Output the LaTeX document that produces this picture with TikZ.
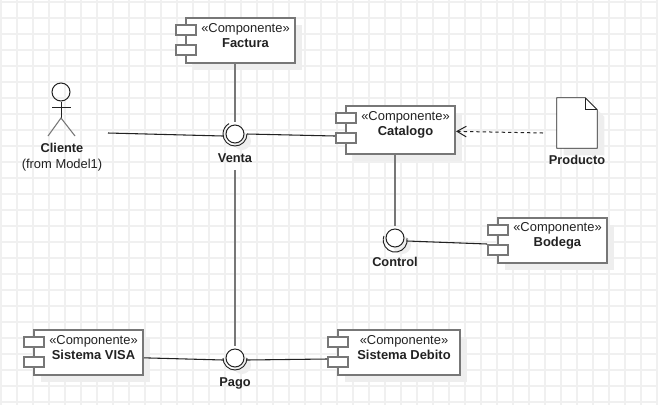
\documentclass[tikz,border=0pt]{standalone}
\usepackage{fontspec}
\setmainfont{Liberation Sans}
\usetikzlibrary{positioning,shadows,arrows.meta}
\definecolor{umlgray}{HTML}{777777}
\definecolor{umlshadow}{HTML}{EEEEEE}
\definecolor{umlgrid}{HTML}{F0F0F0}
\definecolor{umlink}{HTML}{222222}
\begin{document}
\begin{tikzpicture}[x=0.75pt,y=-0.75pt]
    \tikzstyle{component} = [rectangle, draw=umlgray, line width=1.5pt, fill=white, minimum height=33.75pt, minimum width=81.75pt, inner sep=0pt, general shadow={shadow xshift=5.25pt, shadow yshift=-5.25pt, fill=umlshadow}]
    \tikzstyle{port} = [rectangle, draw=umlgray, line width=1.5pt, fill=white, minimum width=15pt, minimum height=7.5pt, inner sep=0pt]
    \tikzstyle{caption} = [align=center, font=\fontsize{9.7pt}{11.25pt}\selectfont, text=umlink, inner sep=0pt]
    \tikzstyle{iface} = [circle, draw=umlink, line width=0.75pt, fill=white, minimum size=13.5pt, inner sep=0pt, outer sep=2.25pt, general shadow={shadow xshift=5.25pt, shadow yshift=-5.25pt, fill=umlshadow}]
    \tikzstyle{socket} = [draw=umlink, line width=0.7pt]
    \tikzstyle{assembly} = [draw=umlgray, line width=1.5pt]
    \tikzstyle{wire} = [draw=umlink, line width=0.8pt]
    \tikzstyle{limb} = [draw=umlink, line width=0.6pt]
    \tikzstyle{dependency} = [draw=umlink, line width=0.75pt, dash pattern=on 2.5pt off 2.25pt, -{Straight Barb[length=7pt,width=8pt]}]
    \tikzstyle{title} = [font=\bfseries\fontsize{9.6pt}{11.25pt}\selectfont, text=umlink, inner sep=0pt, text height=7pt, text depth=2pt]

    \useasboundingbox (0,0) rectangle (658,405);
    \fill[white] (0,0) rectangle (658,405);
    % grid
    \foreach \i in {0,...,41} \draw[umlgrid, line width=1.5pt] (16*\i+0.5,0) -- (16*\i+0.5,405);
    \foreach \i in {0,...,25} \draw[umlgrid, line width=1.5pt] (0,16*\i+1.5) -- (658,16*\i+1.5);

    % interfaces
    \node[iface] (venta) at (235,134) {};
    \node[iface] (control) at (395,238) {};
    \node[iface] (pago) at (235,358) {};
    \draw[socket] ([shift={(12,0)}]venta.center) arc[start angle=0, end angle=-240, radius=9pt];
    \draw[socket] ([shift={(12,0)}]control.center) arc[start angle=10, end angle=-200, radius=9pt];
    \draw[socket] ([shift={(12,0)}]pago.center) arc[start angle=0, end angle=-180, radius=9pt];
    \node[title, below=5pt of venta] (ventalabel) {Venta};
    \node[title, below=5pt of control] (controllabel) {Control};
    \node[title, below=5pt of pago] (pagolabel) {Pago};

    % components
    \node[component] (factura) at (240.5,40.5) {};
    \node[port] (facturaup) at (186,30) {};
    \node[port] (facturalow) at (186,50) {};
    \node[caption] (facturatext) at (245.5,35.5) {«Componente»\\\textbf{Factura}};

    \node[component, minimum height=36pt] (catalogo) at (400.5,130) {};
    \node[port] (catalogoup) at (346,118) {};
    \node[port] (catalogolow) at (346,138) {};
    \node[caption] (catalogotext) at (405.5,124.5) {«Componente»\\\textbf{Catalogo}};

    \node[component] (bodega) at (552.5,240.5) {};
    \node[port] (bodegaup) at (498,230) {};
    \node[port] (bodegalow) at (498,250) {};
    \node[caption] (bodegatext) at (557.5,235.5) {«Componente»\\\textbf{Bodega}};

    \node[component] (visa) at (88.5,352.5) {};
    \node[port] (visaup) at (34,342) {};
    \node[port] (visalow) at (34,362) {};
    \node[caption] (visatext) at (93.5,347.5) {«Componente»\\\textbf{Sistema VISA}};

    \node[component, minimum width=91.5pt] (debito) at (399,352.5) {};
    \node[port] (debitoup) at (338,342) {};
    \node[port] (debitolow) at (338,362) {};
    \node[caption] (debitotext) at (404,347.5) {«Componente»\\\textbf{Sistema Debito}};

    % actor
    \node[circle, draw=umlink, line width=0.75pt, minimum size=13.5pt, inner sep=0pt] (clientehead) at (61,92) {};
    \coordinate (clientehip) at (61,118);
    \draw[limb] (clientehead.south) -- (clientehip);
    \draw[limb] (52,107) -- (71,107);
    \draw[umlgray, line width=0.8pt] (48,136) -- (clientehip) -- (75,136);
    \node[title] (clientelabel) at (62,149) {Cliente};
    \node[caption] (clientefrom) at (62,165) {(from Model1)};

    % document
    \node[minimum width=30pt, minimum height=37.5pt, inner sep=0pt] (producto) at (577,123) {};
    \fill[umlshadow] ([shift={(7,7)}]producto.north west) -- ([shift={(-5,7)}]producto.north east) -- ([shift={(7,19)}]producto.north east) -- ([shift={(7,7)}]producto.south east) -- ([shift={(7,7)}]producto.south west) -- cycle;
    \draw[socket, fill=white] (producto.north west) -- ([xshift=-9pt]producto.north east) -- ([yshift=-9pt]producto.north east) -- (producto.south east) -- (producto.south west) -- cycle;
    \draw[socket] ([xshift=-9pt]producto.north east) -- ([xshift=-9pt,yshift=-9pt]producto.north east) -- ([yshift=-9pt]producto.north east);
    \node[title, below=5pt of producto] (productolabel) {Producto};

    % connectors
    \coordinate (clienteend) at (108,133);
    \coordinate (ventaend) at (235,170);
    \coordinate (productoend) at (543,133);
    \draw[wire] (clienteend) -- ([yshift=-1.5pt]venta.west);
    \draw[wire] (venta.east) -- ([yshift=1.5pt]catalogolow.west);
    \draw[assembly] (venta.north |- factura.south) -- (venta.north);
    \draw[assembly] (ventaend) -- (pago.north);
    \draw[assembly] (control.north |- catalogo.south) -- (control.north);
    \draw[wire] ([yshift=-2.25pt]control.east) -- (bodegalow.north west);
    \draw[wire] ([yshift=-4pt]visa.east) -- ([yshift=-1.5pt]pago.west);
    \draw[wire] ([yshift=-1.5pt]pago.east) -- ([yshift=2.25pt]debitolow.west);
    \draw[dependency] (productoend) -- ([yshift=-1pt]catalogo.east);
\end{tikzpicture}
\end{document}
